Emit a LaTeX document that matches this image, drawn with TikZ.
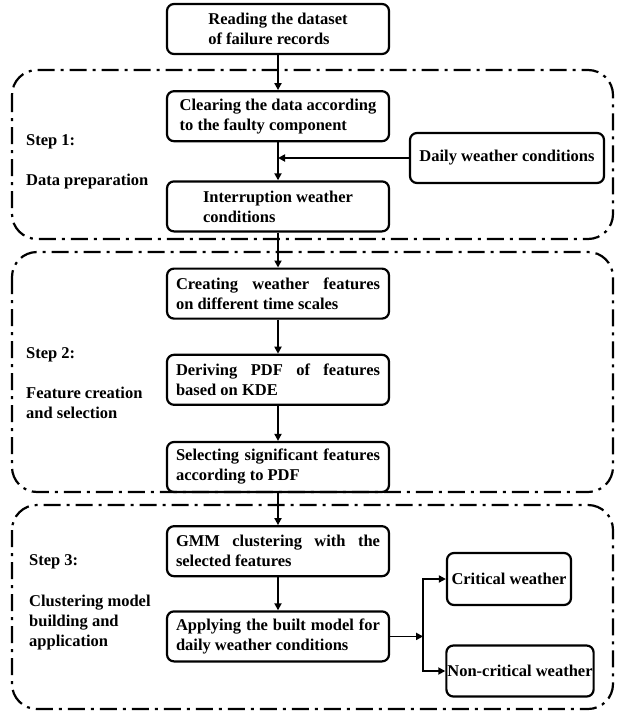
\documentclass[tikz,border=0pt]{standalone}
\usepackage{fontspec}
\setmainfont{Liberation Serif}
\usetikzlibrary{positioning, arrows.meta}

\tikzset{
    box/.style={draw, line width=2.2pt, rounded corners=7pt, minimum width=222pt,
        minimum height=50pt, align=left, inner sep=4pt},
    jbox/.style={box, text width=204pt, align=justify},
    link/.style={line width=1.8pt, -{Triangle[length=7pt, width=7pt]}},
    frame/.style={line width=2.2pt, rounded corners=25pt,
        dash pattern=on 17pt off 6pt on 3pt off 6pt},
    steplabel/.style={anchor=base west, align=left, inner sep=0pt},
}

\begin{document}
\begin{tikzpicture}[x=1pt, y=1pt, font=\bfseries\fontsize{16.5}{20}\selectfont]
    \useasboundingbox (0,0) rectangle (621,-712);

    % the three steps
    \draw [frame] (12,-70)  rectangle (613,-239);
    \draw [frame] (12,-252) rectangle (613,-492);
    \draw [frame] (12,-505) rectangle (613,-709);

    \node [box] (read) at (278,-29) {Reading the dataset\\of failure records};
    \node [box,  below=35pt of read  ] (clear)  {Clearing the data according\\to the faulty component};
    \node [box,  below=38pt of clear ] (inter)  {Interruption weather\\conditions};
    \node [jbox, below=35pt of inter ] (create) {Creating weather features\linebreak on different time scales};
    \node [jbox, below=34pt of create] (derive) {Deriving PDF of features\linebreak based on KDE};
    \node [jbox, below=35pt of derive] (select) {Selecting significant features\linebreak according to PDF};
    \node [jbox, below=32pt of select] (gmm)    {GMM clustering with the\linebreak selected features};
    \node [jbox, below=33pt of gmm   ] (apply)  {Applying the built model for\linebreak daily weather conditions};

    \node [box, minimum width=194pt] (daily) at (507,-158) {Daily weather conditions};
    \node [box, minimum width=124pt, minimum height=52pt, inner xsep=1pt] (crit)    at (509,-579) {Critical weather};
    \node [box, minimum width=146pt, minimum height=51pt, inner xsep=1pt] (noncrit) at (520,-671) {Non-critical weather};

    % base anchor sits on the last line
    \node [steplabel] (step1) at (26,-185) {Step 1:\\[20pt]Data preparation};
    \node [steplabel] (step2) at (26,-418) {Step 2:\\[20pt]Feature creation\\and selection};
    \node [steplabel] (step3) at (29,-646) {Step 3:\\[21pt]Clustering model\\building and\\application};

    \coordinate [right=33pt of apply] (split);

    \draw [link] (read)   -- (clear);
    \draw [link] (clear)  -- (inter);
    \draw [link] (daily)  -- (clear.south |- daily);
    \draw [link] (inter)  -- (create);
    \draw [link] (create) -- (derive);
    \draw [link] (derive) -- (select);
    \draw [link] (select) -- (gmm);
    \draw [link] (gmm)    -- (apply);
    \draw [link] (apply)  -- (split);
    \draw [link] (split) |- (crit);
    \draw [link] (split) |- (noncrit);
\end{tikzpicture}
\end{document}
